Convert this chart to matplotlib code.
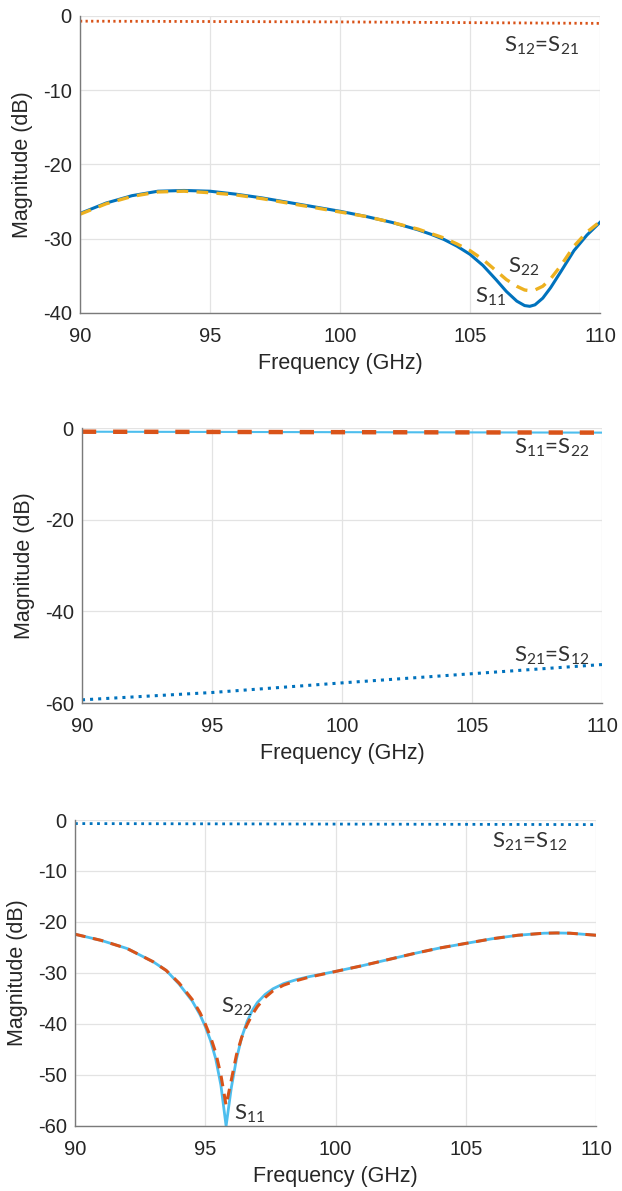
import matplotlib
matplotlib.use("Agg")
import matplotlib.pyplot as plt

# ---- Panel (a): matched two-port ----
f_a = [90, 91, 92, 93, 94, 95, 96, 97, 98, 99, 100, 101, 102, 103, 103.5, 104,
       104.5, 105, 105.5, 106, 106.4, 106.8, 107.1, 107.3, 107.5, 107.8, 108.1,
       108.5, 109, 109.5, 110]
s11_a = [-26.6, -25.2, -24.2, -23.6, -23.5, -23.6, -24.0, -24.5, -25.1, -25.7,
         -26.3, -27.0, -27.8, -28.8, -29.4, -30.1, -31.0, -32.1, -33.6, -35.5,
         -37.1, -38.4, -39.0, -39.1, -38.9, -38.0, -36.6, -34.4, -31.6, -29.5,
         -27.8]
s22_a = [-26.7, -25.3, -24.3, -23.7, -23.6, -23.8, -24.1, -24.6, -25.2, -25.8,
         -26.4, -27.0, -27.8, -28.7, -29.3, -29.9, -30.7, -31.6, -32.8, -34.3,
         -35.5, -36.4, -36.9, -37.0, -36.9, -36.4, -35.4, -33.6, -31.0, -29.1,
         -27.7]
f_a_thru = [90, 95, 100, 105, 110]
s21_a = [-0.7, -0.75, -0.8, -0.9, -1.0]

# ---- Panel (b): isolated two-port ----
f_b = [90, 95, 100, 105, 110]
s11_b = [-0.8, -0.85, -0.9, -0.95, -1.0]
s21_b = [-59.3, -57.7, -55.6, -53.6, -51.6]

# ---- Panel (c): resonant two-port ----
f_c = [90, 91, 92, 93, 93.5, 94, 94.5, 94.8, 95, 95.2, 95.4, 95.6, 95.8,
       96.0, 96.2, 96.4, 96.6, 96.8, 97, 97.3, 97.6, 98, 98.5, 99, 100, 101,
       102, 103, 104, 105, 106, 107, 108, 108.5, 109, 110]
s11_c = [-22.4, -23.6, -25.2, -27.8, -29.5, -32.2, -35.5, -38.2, -40.5, -43.2,
         -46.8, -52.0, -60.0, -52.5, -46.8, -42.6, -39.6, -37.4, -35.8, -34.2,
         -33.1, -32.1, -31.3, -30.7, -29.7, -28.6, -27.4, -26.2, -25.1, -24.2,
         -23.3, -22.6, -22.2, -22.15, -22.2, -22.6]
s22_c = [-22.4, -23.6, -25.2, -27.8, -29.5, -32.0, -35.2, -37.8, -40.0, -42.5,
         -45.6, -50.0, -56.0, -51.0, -46.0, -42.6, -40.2, -38.2, -36.6, -34.8,
         -33.5, -32.4, -31.5, -30.8, -29.7, -28.6, -27.4, -26.2, -25.1, -24.2,
         -23.3, -22.6, -22.2, -22.15, -22.2, -22.6]
s21_c = [-0.7, -0.75, -0.8, -0.85, -0.9]

x_ticks = [90, 95, 100, 105, 110]

BLUE = "#0072BD"
ORANGE = "#D95319"
YELLOW = "#EDB120"
CYAN = "#4DBEEE"
TXT = "#262626"

plt.rcParams["font.family"] = ["Liberation Sans", "DejaVu Sans"]
plt.rcParams["axes.unicode_minus"] = False
plt.rcParams["mathtext.fontset"] = "custom"
plt.rcParams["mathtext.rm"] = "Lato"

fig = plt.figure(figsize=(6.22, 11.91), dpi=100)

def style(ax, ylim, yticks):
    ax.set_xlim(90, 110)
    ax.set_ylim(*ylim)
    ax.set_xticks(x_ticks)
    ax.set_yticks(yticks)
    ax.grid(True, color="#e3e3e3", linewidth=0.9)
    ax.set_axisbelow(True)
    for s in ("top", "right"):
        ax.spines[s].set_visible(False)
    for s in ("left", "bottom"):
        ax.spines[s].set_color("#7a7a7a")
        ax.spines[s].set_linewidth(1.0)
    ax.tick_params(axis="both", direction="in", length=0,
                   labelsize=14.5, labelcolor=TXT)
    ax.tick_params(axis="x", pad=10)
    ax.tick_params(axis="y", pad=6)
    ax.set_xlabel("Frequency (GHz)", fontsize=15.5, color=TXT, labelpad=5)
    ax.set_ylabel("Magnitude (dB)", fontsize=15.5, color=TXT, labelpad=7)

def note(ax, x, y, s):
    ax.text(x, y, s, fontsize=16, color="#333333", family="Lato",
            ha="left", va="center")

# Panel (a)
ax1 = fig.add_axes([0.1286, 0.7372, 0.836, 0.2494])
style(ax1, (-40, 0), [-40, -30, -20, -10, 0])
ax1.plot(f_a_thru, s21_a, color=ORANGE, linestyle=(0, (0.8, 1.2)), linewidth=2.0)
ax1.plot(f_a, s11_a, color=BLUE, linewidth=2.2)
ax1.plot(f_a, s22_a, color=YELLOW, linestyle=(0, (3.5, 2.5)), linewidth=2.4)
note(ax1, 106.3, -4.0, r"S$_{12}$=S$_{21}$")
note(ax1, 106.45, -33.8, r"S$_{22}$")
note(ax1, 105.2, -37.8, r"S$_{11}$")

# Panel (b)
ax2 = fig.add_axes([0.1318, 0.4097, 0.836, 0.2309])
style(ax2, (-60, 0), [-60, -40, -20, 0])
ax2.plot(f_b, s11_b, color=CYAN, linewidth=1.5)
ax2.plot(f_b, s11_b, color=ORANGE, linestyle=(0, (3.2, 3.8)), linewidth=3.2)
ax2.plot(f_b, s21_b, color=BLUE, linestyle=":", linewidth=2.2)
note(ax2, 106.6, -4.2, r"S$_{11}$=S$_{22}$")
note(ax2, 106.6, -49.6, r"S$_{21}$=S$_{12}$")

# Panel (c)
ax3 = fig.add_axes([0.1206, 0.0546, 0.8376, 0.2569])
style(ax3, (-60, 0), [-60, -50, -40, -30, -20, -10, 0])
ax3.plot(f_b, s21_c, color=BLUE, linestyle=":", linewidth=2.0)
ax3.plot(f_c, s11_c, color=CYAN, linewidth=2.0)
ax3.plot(f_c, s22_c, color=ORANGE, linestyle=(0, (3.5, 2.5)), linewidth=2.2)
note(ax3, 106.0, -4.3, r"S$_{21}$=S$_{12}$")
note(ax3, 95.6, -36.7, r"S$_{22}$")
note(ax3, 96.1, -57.5, r"S$_{11}$")

fig.savefig("out.png", dpi=100)
